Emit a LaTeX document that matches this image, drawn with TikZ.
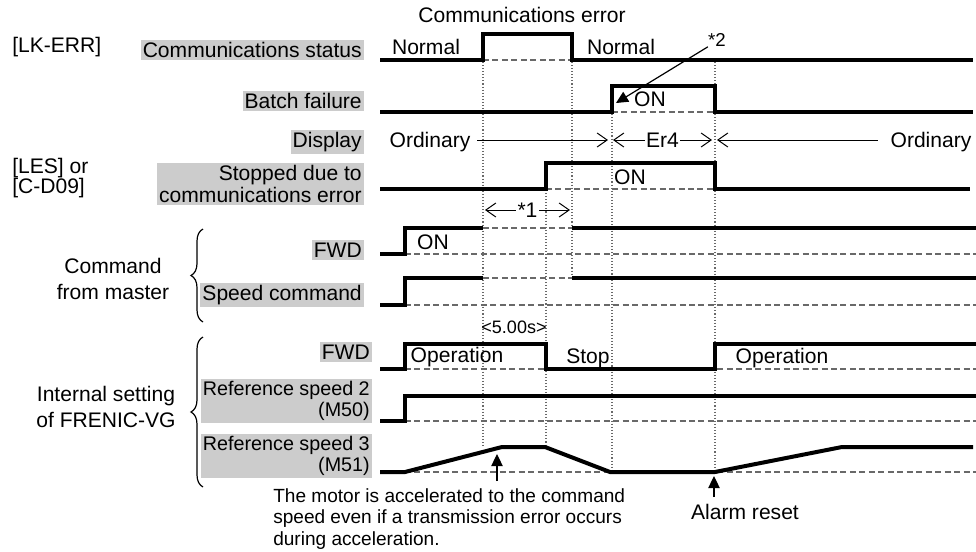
\documentclass[tikz,border=0pt]{standalone}
\usepackage{fontspec}
\setmainfont{Liberation Sans}
\usetikzlibrary{arrows.meta,decorations.pathreplacing}
\definecolor{lbl}{RGB}{204,204,204}
\definecolor{dgray}{RGB}{105,105,105}
\begin{document}
\begin{tikzpicture}[x=0.75pt,y=-0.75pt,
  sig/.style={line width=3pt, line join=miter, line cap=butt},
  refline/.style={dgray, line width=0.9pt, dash pattern=on 4.5pt off 2.6pt},
  vdot/.style={dgray, line width=0.9pt, dash pattern=on 0.8pt off 1.5pt},
  lab/.style={fill=lbl, inner xsep=1.5pt, inner ysep=1.8pt, anchor=east, align=right,
              font=\fontsize{15.8}{16}\selectfont},
  lab2/.style={lab, font=\fontsize{14.8}{15.5}\selectfont},
  txt/.style={inner sep=0pt, font=\fontsize{15.8}{18}\selectfont},
  note/.style={inner sep=0pt, align=left, anchor=west, font=\fontsize{14.3}{16}\selectfont},
  chev/.style={line width=0.75pt, {Straight Barb[length=7.5pt,width=10.5pt,line width=0.75pt]}-{Straight Barb[length=7.5pt,width=10.5pt,line width=0.75pt]}},
  chevR/.style={line width=0.75pt, -{Straight Barb[length=7.5pt,width=10.5pt,line width=0.75pt]}},
  chevL/.style={line width=0.75pt, {Straight Barb[length=7.5pt,width=10.5pt,line width=0.75pt]}-},
  pointer/.style={line width=0.9pt, -{Triangle[length=9pt,width=8.5pt]}},
  bracestyle/.style={line width=0.9pt, decorate, decoration={brace, amplitude=9pt, aspect=0.5}}
]
\useasboundingbox (0,0) rectangle (976,551);

% ---------- vertical dotted guides
\draw[vdot] (483,62) -- (483,448);
\draw[vdot] (572,62) -- (572,278);
\draw[vdot] (546,190) -- (546,445);
\draw[vdot] (612,114) -- (612,472);
\draw[vdot] (715,62) -- (715,472);

% ---------- reference (dashed) lines
\draw[refline] (483,60) -- (572,60);
\draw[refline] (612,112) -- (715,112);
\draw[refline] (546,189) -- (715,189);
\draw[refline] (483,228) -- (572,228);
\draw[refline] (405,254) -- (976,254);
\draw[refline] (483,278) -- (572,278);
\draw[refline] (405,305) -- (976,305);
\draw[refline] (405,369) -- (976,369);
\draw[refline] (405,421) -- (976,421);
\draw[refline] (405,472) -- (976,472);

% ---------- title
\node[txt] (title) at (522,15) {Communications error};

% ---------- group labels
\node[txt, anchor=west] (lkerr) at (12,47) {[LK-ERR]};
\node[txt, anchor=west, align=left, font=\fontsize{15.8}{15}\selectfont] (les) at (12,178) {[LES] or\\{}[C-D09]};
\node[txt, align=center, font=\fontsize{15.8}{20}\selectfont] (cmd) at (113,279) {Command\\from master};
\node[txt, align=center, font=\fontsize{15.8}{20}\selectfont] (intl) at (106,407) {Internal setting\\of FRENIC-VG};

% ---------- braces
\draw[bracestyle] (203,322) -- (203,229);
\draw[bracestyle] (203,487) -- (203,337);

% ---------- signal labels
\node[lab] (l1) at (364,50) {Communications status};
\node[lab] (l2) at (364,101) {Batch failure};
\node[lab] (l3) at (364,142) {Display};
\node[lab, font=\fontsize{15.8}{16}\selectfont] (l4) at (364,184) {Stopped due to\\communications error};
\node[lab] (l5) at (364,250) {FWD};
\node[lab] (l6) at (364,295) {Speed command};
\node[lab] (l7) at (372,352) {FWD};
\node[lab2] (l8) at (372,401) {Reference speed 2\\(M50)};
\node[lab2] (l9) at (372,456) {Reference speed 3\\(M51)};

% ---------- waveforms
\draw[sig] (380,60) -- (483,60) -- (483,34) -- (572,34) -- (572,60) -- (973,60);
\draw[sig] (380,112) -- (612,112) -- (612,86) -- (715,86) -- (715,112) -- (973,112);
\draw[sig] (380,189) -- (546,189) -- (546,163) -- (715,163) -- (715,189) -- (970,189);
\draw[sig] (380,254) -- (405,254) -- (405,228) -- (483,228);
\draw[sig] (572,228) -- (976,228);
\draw[sig] (380,305) -- (405,305) -- (405,278) -- (483,278);
\draw[sig] (572,278) -- (976,278);
\draw[sig] (380,369) -- (405,369) -- (405,344) -- (546,344) -- (546,369) -- (715,369) -- (715,344) -- (976,344);
\draw[sig] (380,421) -- (405,421) -- (405,396) -- (976,396);
\draw[sig] (380,472) -- (405,472) -- (502,447) -- (545,447) -- (610,472) -- (715,472) -- (842,447) -- (973,447);

% ---------- state texts
\node[txt] (n1) at (426,47) {Normal};
\node[txt] (n2) at (621,47) {Normal};
\node[txt] (on1) at (650,99) {ON};
\node[txt] (on2) at (630,177) {ON};
\node[txt] (on3) at (433,242) {ON};
\node[txt] (op1) at (457,357) {Operation};
\node[txt] (stop) at (588,358) {Stop};
\node[txt] (op2) at (782,358) {Operation};

% ---------- display row
\node[txt] (ordL) at (430,142) {Ordinary};
\node[txt] (ordR) at (931,142) {Ordinary};
\coordinate (d1) at (477,140);
\coordinate (d2) at (608,140);
\coordinate (d3) at (613,140);
\coordinate (d4) at (712,140);
\coordinate (d5) at (717,140);
\coordinate (d6) at (878,140);
\draw[chevR] (d1) -- (d2);
\draw[chev] (d3) -- (d4) node[midway, fill=white, inner xsep=1pt, inner ysep=0pt, font=\fontsize{15.8}{16}\selectfont] (er4) {Er4};
\draw[chevL] (d5) -- (d6);

% ---------- *1
\coordinate (s1a) at (485,210);
\coordinate (s1b) at (570,210);
\draw[chev] (s1a) -- (s1b) node[midway, fill=white, inner xsep=1pt, inner ysep=0pt, font=\fontsize{15.8}{16}\selectfont] (star1) {*1};

% ---------- 5.00s
\node[inner sep=0pt, font=\fontsize{13.5}{14}\selectfont] (t5) at (514,327) {<5.00s>};

% ---------- *2 pointer
\node[inner sep=0pt, font=\fontsize{14}{15}\selectfont] (star2) at (717,40) {*2};
\coordinate (s2tip) at (616,103);
\draw[pointer] (star2.south west) -- (s2tip);

% ---------- notes
\node[note] (motor) at (273,519) {The motor is accelerated to the command\\speed even if a transmission error occurs\\during acceleration.};
\coordinate (m1) at (497,481);
\coordinate (m2) at (497,454);
\draw[pointer] (m1) -- (m2);

\node[txt] (alarm) at (745,512) {Alarm reset};
\coordinate (a1) at (714,497);
\coordinate (a2) at (714,476);
\draw[pointer] (a1) -- (a2);
\end{tikzpicture}
\end{document}
